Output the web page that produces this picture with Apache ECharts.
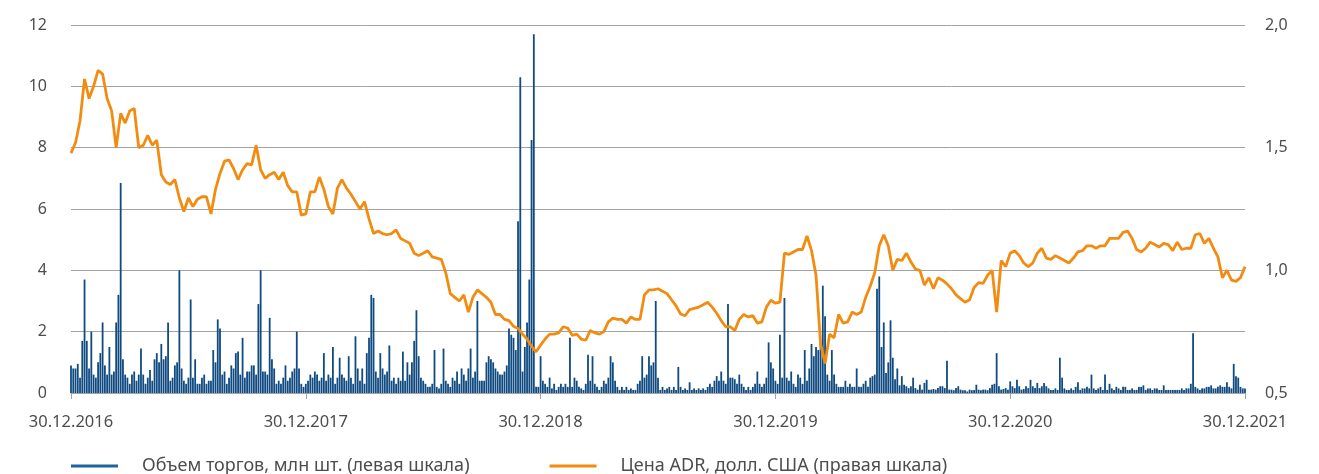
<!DOCTYPE html>
<html>
<head>
<meta charset="utf-8">
<title>Объем торгов и цена ADR</title>
<script src="https://cdn.jsdelivr.net/npm/echarts@6/dist/echarts.min.js"></script>
<style>
  html, body { margin: 0; padding: 0; background: #fff; }
  #chart { width: 1319px; height: 474px; }
</style>
</head>
<body>
<div id="chart"></div>
<script>
// подписи оси X (по годам)
const tickLabels = ['30.12.2016', '30.12.2017', '30.12.2018', '30.12.2019', '30.12.2020', '30.12.2021']

// объем торгов, млн шт. (2 значения в неделю)
const vol2017 = [0.9, 0.8, 0.8, 0.95, 0.5, 1.7, 3.7, 1.7, 0.8, 2.0, 0.6, 0.5, 1.0, 1.3, 2.3, 0.9, 0.6, 1.5, 0.6, 0.7,
  2.3, 3.2, 6.85, 1.1, 0.6, 0.5, 0.3, 0.6, 0.7, 0.4, 0.6, 1.45, 0.6, 0.3, 0.5, 0.75, 0.4, 1.1, 1.3, 1.0,
  1.6, 1.1, 1.2, 2.3, 0.4, 0.5, 0.9, 1.0, 4.0, 0.8, 0.4, 0.3, 0.5, 3.05, 0.5, 1.1, 0.3, 0.3, 0.5, 0.6,
  0.3, 0.4, 0.4, 1.4, 1.0, 2.4, 2.1, 0.6, 0.7, 0.3, 0.5, 0.9, 0.8, 1.3, 1.35, 0.6, 1.8, 0.5, 0.7, 0.7,
  0.9, 0.9, 0.6, 2.9, 4.0, 0.7, 0.7, 0.6, 2.45, 1.1, 0.8, 0.3, 0.4, 0.3, 0.5, 0.9, 0.4, 0.5, 0.7, 0.8,
  2.0, 0.8, 0.3, 0.2]
const vol2018 = [0.3, 0.4, 0.6, 0.5, 0.7, 0.6, 0.4, 0.5, 1.3, 0.4, 0.6, 0.5, 1.5, 0.3, 0.5, 1.15, 0.6, 0.5, 0.4, 1.2,
  0.5, 0.3, 1.85, 0.8, 0.4, 0.8, 0.3, 1.3, 1.8, 3.2, 3.1, 0.7, 0.5, 1.3, 0.8, 0.6, 0.7, 1.55, 0.4, 0.5,
  0.3, 0.5, 0.4, 1.35, 0.4, 1.0, 0.6, 1.0, 1.7, 2.7, 1.2, 0.5, 0.4, 0.3, 0.2, 0.2, 0.3, 1.4, 0.2, 0.15,
  0.3, 1.45, 0.4, 0.3, 0.2, 0.5, 0.4, 0.7, 0.3, 0.8, 0.6, 0.4, 0.8, 1.45, 0.5, 0.7, 3.0, 0.4, 0.4, 0.4,
  1.0, 1.2, 1.1, 1.0, 0.8, 0.7, 0.6, 0.6, 0.7, 0.9, 2.1, 1.9, 1.8, 1.4, 5.6, 10.3, 0.7, 1.5, 2.3, 3.7,
  8.25, 11.7, 0.2, 0.2]
const vol2019 = [1.2, 0.4, 0.3, 0.2, 0.5, 0.15, 0.3, 0.1, 0.2, 0.3, 0.2, 0.3, 0.2, 1.8, 0.2, 0.5, 0.4, 0.2, 0.15, 0.1,
  0.3, 1.25, 0.4, 1.2, 0.3, 0.2, 0.1, 0.2, 0.4, 0.3, 0.5, 1.2, 1.0, 0.4, 0.2, 0.1, 0.2, 0.1, 0.2, 0.1,
  0.15, 0.1, 0.1, 0.3, 0.4, 1.2, 0.5, 0.6, 1.2, 0.9, 1.0, 3.0, 0.5, 0.1, 0.2, 0.1, 0.15, 0.2, 0.1, 0.2,
  0.1, 0.85, 0.2, 0.1, 0.15, 0.1, 0.35, 0.1, 0.15, 0.1, 0.15, 0.1, 0.15, 0.1, 0.2, 0.3, 0.2, 0.4, 0.55, 0.4,
  0.7, 0.4, 0.3, 2.9, 0.5, 0.5, 0.45, 0.3, 0.6, 0.3, 0.2, 0.1, 0.2, 0.1, 0.2, 0.3, 0.7, 0.3, 0.2, 0.3,
  0.5, 1.65, 1.0, 0.8]
const vol2020 = [0.4, 0.3, 1.9, 0.5, 3.1, 0.5, 0.4, 0.7, 0.3, 0.2, 0.6, 0.5, 0.3, 1.4, 0.4, 0.8, 1.6, 1.2, 1.5, 1.4,
  1.6, 3.5, 2.5, 0.6, 0.4, 1.4, 0.6, 0.3, 0.2, 0.2, 0.2, 0.4, 0.2, 0.3, 0.2, 0.2, 0.8, 0.2, 0.2, 0.3,
  0.4, 0.2, 0.5, 0.55, 0.6, 3.4, 3.8, 1.5, 2.3, 0.65, 1.0, 2.37, 1.15, 0.45, 0.8, 0.25, 0.55, 0.27, 0.22, 0.16,
  0.22, 0.5, 0.16, 0.11, 0.27, 0.11, 0.33, 0.43, 0.11, 0.11, 0.13, 0.11, 0.16, 0.22, 0.22, 0.16, 1.05, 0.11, 0.11, 0.09,
  0.16, 0.22, 0.11, 0.09, 0.09, 0.05, 0.11, 0.09, 0.1, 0.27, 0.11, 0.09, 0.11, 0.11, 0.09, 0.16, 0.27, 0.3, 1.3, 0.22,
  0.11, 0.13, 0.16, 0.11]
const vol2021 = [0.38, 0.22, 0.16, 0.43, 0.22, 0.11, 0.13, 0.22, 0.16, 0.43, 0.22, 0.16, 0.33, 0.16, 0.22, 0.33, 0.22, 0.15, 0.1, 0.1,
  0.15, 0.1, 1.15, 0.5, 0.15, 0.1, 0.1, 0.15, 0.1, 0.2, 0.35, 0.1, 0.15, 0.15, 0.2, 0.15, 0.6, 0.15, 0.1, 0.15,
  0.2, 0.1, 0.6, 0.1, 0.3, 0.15, 0.1, 0.2, 0.15, 0.1, 0.2, 0.2, 0.1, 0.1, 0.15, 0.1, 0.1, 0.2, 0.2, 0.25,
  0.1, 0.15, 0.15, 0.1, 0.15, 0.15, 0.1, 0.1, 0.25, 0.1, 0.1, 0.1, 0.1, 0.1, 0.1, 0.1, 0.15, 0.1, 0.15, 0.15,
  0.3, 1.95, 0.2, 0.15, 0.1, 0.15, 0.15, 0.2, 0.2, 0.25, 0.15, 0.15, 0.2, 0.25, 0.2, 0.2, 0.35, 0.2, 0.15, 0.95,
  0.55, 0.5, 0.2, 0.15, 0.15]

// цена ADR, долл. США (по неделям)
const price2017 = [1.478, 1.52, 1.61, 1.78, 1.70, 1.75, 1.815, 1.80, 1.70, 1.65, 1.50, 1.64, 1.60, 1.65, 1.66, 1.50, 1.51, 1.55, 1.51, 1.53,
  1.39, 1.36, 1.35, 1.37, 1.295, 1.24, 1.295, 1.26, 1.29, 1.30, 1.30, 1.23, 1.33, 1.395, 1.445, 1.45, 1.415, 1.37, 1.41, 1.435,
  1.43, 1.51, 1.41, 1.375, 1.39, 1.40, 1.37, 1.40, 1.345, 1.32, 1.32, 1.225]
const price2018 = [1.23, 1.32, 1.32, 1.38, 1.33, 1.26, 1.23, 1.335, 1.37, 1.335, 1.31, 1.28, 1.25, 1.28, 1.21, 1.15, 1.16, 1.15, 1.145, 1.15,
  1.165, 1.13, 1.12, 1.11, 1.07, 1.06, 1.07, 1.08, 1.055, 1.05, 1.045, 0.99, 0.905, 0.89, 0.875, 0.90, 0.83, 0.89, 0.92, 0.905,
  0.89, 0.87, 0.82, 0.82, 0.80, 0.795, 0.772, 0.763, 0.74, 0.72, 0.69, 0.668]
const price2019 = [0.695, 0.72, 0.74, 0.74, 0.745, 0.77, 0.765, 0.735, 0.74, 0.72, 0.715, 0.755, 0.745, 0.74, 0.75, 0.79, 0.805, 0.80, 0.80, 0.785,
  0.81, 0.80, 0.80, 0.90, 0.92, 0.92, 0.925, 0.915, 0.905, 0.88, 0.855, 0.822, 0.815, 0.84, 0.845, 0.85, 0.86, 0.87, 0.85, 0.825,
  0.795, 0.77, 0.77, 0.755, 0.80, 0.82, 0.81, 0.815, 0.785, 0.79, 0.85, 0.878]
const price2020 = [0.866, 0.87, 1.07, 1.065, 1.075, 1.085, 1.085, 1.14, 1.08, 0.98, 0.70, 0.62, 0.74, 0.725, 0.82, 0.785, 0.79, 0.83, 0.82, 0.83,
  0.89, 0.935, 0.99, 1.10, 1.145, 1.10, 1.00, 1.045, 1.04, 1.07, 1.035, 1.005, 1.00, 0.94, 0.97, 0.925, 0.97, 0.96, 0.945, 0.925,
  0.90, 0.885, 0.87, 0.88, 0.93, 0.95, 0.947, 0.98, 1.00, 0.83, 1.04, 1.015]
const price2021 = [1.07, 1.08, 1.06, 1.03, 1.015, 1.03, 1.07, 1.09, 1.05, 1.045, 1.06, 1.05, 1.04, 1.03, 1.05, 1.075, 1.08, 1.10, 1.10, 1.09,
  1.10, 1.10, 1.13, 1.13, 1.13, 1.155, 1.16, 1.13, 1.085, 1.075, 1.09, 1.115, 1.105, 1.095, 1.11, 1.105, 1.08, 1.115, 1.085, 1.09,
  1.09, 1.145, 1.15, 1.11, 1.13, 1.09, 1.055, 0.97, 1.00, 0.96, 0.955, 0.97, 1.015]

const volume = [].concat(vol2017, vol2018, vol2019, vol2020, vol2021)
const price = [].concat(price2017, price2018, price2019, price2020, price2021)
const years = tickLabels.length - 1

// ось X в годах от 30.12.2016
const volumeData = volume.map((v, i) => [i * years / (volume.length - 1), v])
const priceData = price.map((v, i) => [i * years / (price.length - 1), v])

const font = 'Noto Sans'
const labelColor = '#4d4d4d'
const gridColor = '#a3a3a3'

const chart = echarts.init(document.getElementById('chart'))
const option = {
  animation: false,
  textStyle: { fontFamily: font },
  grid: {
    left: 71,
    right: 74,
    top: 25,
    bottom: 81
  },
  legend: {
    left: 66,
    top: 452,
    itemWidth: 47,
    itemHeight: 3,
    itemGap: 80,
    icon: 'rect',
    textStyle: {
      fontFamily: font,
      fontSize: 18,
      color: labelColor,
      padding: [0, 0, 0, 19]
    },
    data: [
      { name: 'Объем торгов, млн шт. (левая шкала)', itemStyle: { color: '#1c64a0' } },
      { name: 'Цена ADR, долл. США (правая шкала)', itemStyle: { color: '#f28c10' } }
    ]
  },
  xAxis: {
    type: 'value',
    min: 0,
    max: years,
    interval: 1,
    axisLine: { show: true, lineStyle: { color: gridColor } },
    axisTick: { show: true, length: 6, lineStyle: { color: gridColor } },
    splitLine: { show: false },
    axisLabel: {
      margin: 21,
      fontSize: 16.5,
      color: labelColor,
      formatter: v => tickLabels[Math.round(v)]
    }
  },
  yAxis: [
    {
      type: 'value',
      min: 0,
      max: 12,
      interval: 2,
      axisLine: { show: false },
      axisTick: { show: false },
      splitLine: { lineStyle: { color: gridColor, width: 1 } },
      axisLabel: { margin: 24, fontSize: 16, color: labelColor }
    },
    {
      type: 'value',
      min: 0.5,
      max: 2.0,
      interval: 0.5,
      axisLine: { show: false },
      axisTick: { show: false },
      splitLine: { show: false },
      axisLabel: {
        margin: 20,
        fontSize: 16,
        color: labelColor,
        formatter: v => v.toFixed(1).replace('.', ',')
      }
    }
  ],
  series: [
    {
      name: 'Объем торгов, млн шт. (левая шкала)',
      type: 'bar',
      yAxisIndex: 0,
      barWidth: 1.8,
      itemStyle: { color: '#0f4a80' },
      data: volumeData
    },
    {
      name: 'Цена ADR, долл. США (правая шкала)',
      type: 'line',
      yAxisIndex: 1,
      symbol: 'none',
      lineStyle: { color: '#f28c10', width: 2.8 },
      itemStyle: { color: '#f28c10' },
      data: priceData,
      z: 3
    }
  ]
}
chart.setOption(option)
window.addEventListener('resize', () => chart.resize())
</script>
</body>
</html>
